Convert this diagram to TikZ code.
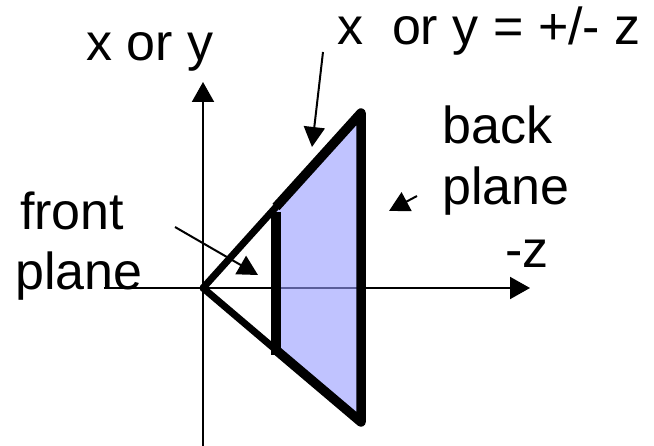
\documentclass[tikz,border=0pt]{standalone}
\usepackage{fontspec}
\setmainfont{Liberation Sans}
\usetikzlibrary{arrows.meta}
\definecolor{planefill}{RGB}{150,155,255}
\begin{document}
\begin{tikzpicture}[x=1pt,y=-1pt,
  axis/.style={line width=2pt,-{Triangle[width=22pt,length=20pt]}},
  pointer/.style={line width=2pt,-{Triangle[width=21pt,length=20pt]}},
  lbl/.style={anchor=base west,inner sep=0pt,font=\fontsize{52}{60}\selectfont},
  coneedge/.style={line width=7pt,line cap=round},
  frustum/.style={line width=9.5pt,line join=round,fill=planefill,fill opacity=0.6},
  frontline/.style={line width=10pt}]
\useasboundingbox (0,0) rectangle (654,446);
% key points
\coordinate (O) at (203,288);
\coordinate (Ft) at (276,207);
\coordinate (Fb) at (276,350);
\coordinate (Bt) at (361,113);
\coordinate (Bb) at (361,422);
\coordinate (yaxisS) at (203,446);
\coordinate (yaxisE) at (203,82);
\coordinate (zaxisS) at (104,288);
\coordinate (zaxisE) at (530,288);
\coordinate (flTop) at (276,212);
\coordinate (flBot) at (276,355);
% axes
\draw[axis] (yaxisS) -- (yaxisE);
\draw[axis] (zaxisS) -- (zaxisE);
% frustum (back part)
\draw[frustum] (Ft) -- (Bt) -- (Bb) -- (Fb);
% cone edges from the apex
\draw[coneedge] (O) -- (Ft);
\draw[coneedge] (O) -- (Fb);
% front plane
\draw[frontline] (flTop) -- (flBot);
% labels
\node[lbl] (xy) at (86,61) {x or y};
\node[lbl] (eq) at (337,45) {x\ \ or y = +/- z};
\node[lbl] (back) at (442,144) {back};
\node[lbl] (backpl) at (442,205) {plane};
\node[lbl] (mz) at (505,268) {-z};
\node[lbl] (front) at (20,230) {front};
\node[lbl] (frontpl) at (15,290) {plane};
% pointers
\coordinate (eqS) at (323,52);
\coordinate (eqE) at (312,147);
\coordinate (fpS) at (175,227);
\coordinate (fpE) at (258,275);
\coordinate (bpS) at (417,196);
\coordinate (bpE) at (389,211);
\draw[pointer] (eqS) -- (eqE);
\draw[pointer] (fpS) -- (fpE);
\draw[pointer] (bpS) -- (bpE);
\end{tikzpicture}
\end{document}
